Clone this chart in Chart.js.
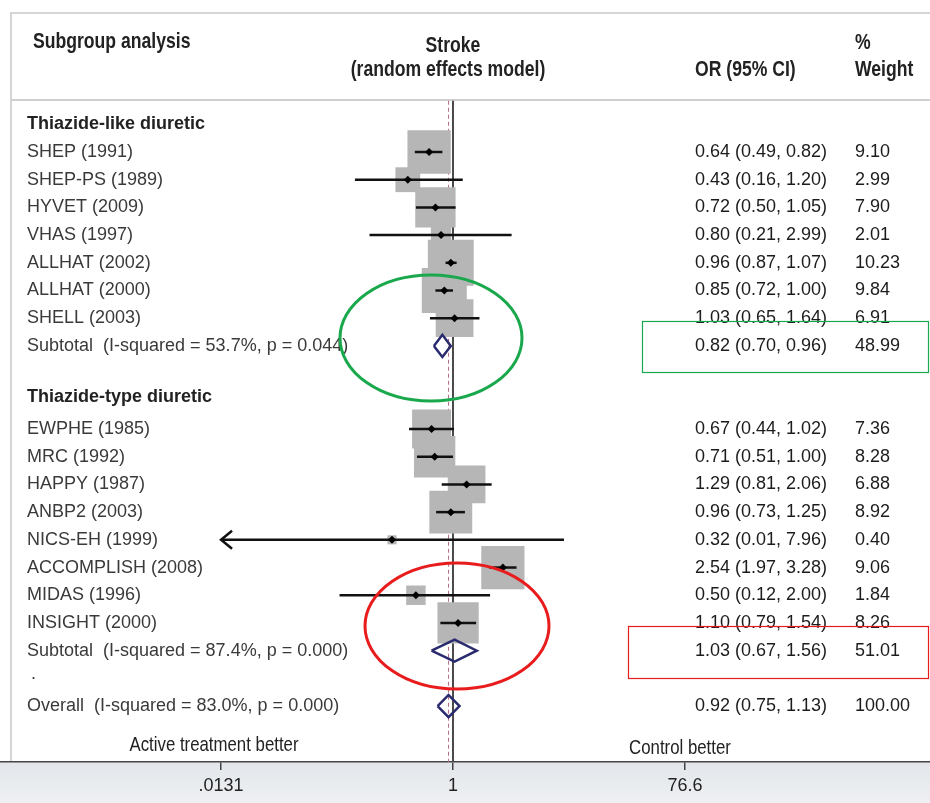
<!DOCTYPE html>
<html>
<head>
<meta charset="utf-8">
<title>Stroke subgroup forest plot</title>
<script src="https://cdn.jsdelivr.net/npm/chart.js@4.4.1/dist/chart.umd.min.js"></script>
<style>
    html, body { margin: 0; padding: 0; background: #fff; }
    #wrap { width: 930px; height: 803px; }
</style>
</head>
<body>
<div id="wrap"><canvas id="forestChart" width="930" height="803"></canvas></div>
<script>
// Thiazide-like diuretic trials
const likeStudies = ['SHEP (1991)', 'SHEP-PS (1989)', 'HYVET (2009)', 'VHAS (1997)', 'ALLHAT (2002)', 'ALLHAT (2000)', 'SHELL (2003)'];
const likeOR = [0.64, 0.43, 0.72, 0.80, 0.96, 0.85, 1.03];
const likeLow = [0.49, 0.16, 0.50, 0.21, 0.87, 0.72, 0.65];
const likeHigh = [0.82, 1.20, 1.05, 2.99, 1.07, 1.00, 1.64];
const likeWeight = [9.10, 2.99, 7.90, 2.01, 10.23, 9.84, 6.91];

// Thiazide-type diuretic trials
const typeStudies = ['EWPHE (1985)', 'MRC (1992)', 'HAPPY (1987)', 'ANBP2 (2003)', 'NICS-EH (1999)', 'ACCOMPLISH (2008)', 'MIDAS (1996)', 'INSIGHT (2000)'];
const typeOR = [0.67, 0.71, 1.29, 0.96, 0.32, 2.54, 0.50, 1.10];
const typeLow = [0.44, 0.51, 0.81, 0.73, 0.01, 1.97, 0.12, 0.79];
const typeHigh = [1.02, 1.00, 2.06, 1.25, 7.96, 3.28, 2.00, 1.54];
const typeWeight = [7.36, 8.28, 6.88, 8.92, 0.40, 9.06, 1.84, 8.26];

// pooled estimates
const groupNames = ['Thiazide-like diuretic', 'Thiazide-type diuretic'];
const subtotalLabels = ['Subtotal  (I-squared = 53.7%, p = 0.044)', 'Subtotal  (I-squared = 87.4%, p = 0.000)'];
const subtotalOR = [0.82, 1.03];
const subtotalLow = [0.70, 0.67];
const subtotalHigh = [0.96, 1.56];
const subtotalWeight = [48.99, 51.01];

const overallLabel = 'Overall  (I-squared = 83.0%, p = 0.000)';
const overallOR = [0.92];
const overallLow = [0.75];
const overallHigh = [1.13];
const overallWeight = [100.00];

// axis
const tickValues = [0.0131, 1, 76.6];
const tickLabels = ['.0131', '1', '76.6'];

// row positions (0 = first group header, counting down)
const groupRows = [0, 9.84];
const likeRows = likeStudies.map((s, i) => 1 + i);
const typeRows = typeStudies.map((s, i) => 11 + i);
const subtotalRows = [8, 19];
const dotRow = 20;
const overallRow = 21;

const allStudies = likeStudies.concat(typeStudies);
const allOR = likeOR.concat(typeOR);
const allLow = likeLow.concat(typeLow);
const allHigh = likeHigh.concat(typeHigh);
const allWeight = likeWeight.concat(typeWeight);
const allRows = likeRows.concat(typeRows);

const FONT = "'Liberation Sans', Arial, Helvetica, sans-serif";
const xMin = Math.pow(10, -3.677);
const xMax = Math.pow(10, 3.872);
const yMin = -4.487;
const yMax = 23.02;
const boxScale = 10.15;
const diamondHalf = 0.4;

function fmt(v) { return v.toFixed(2); }
function ciText(or, lo, hi) { return fmt(or) + ' (' + fmt(lo) + ', ' + fmt(hi) + ')'; }

function diamond(or, lo, hi, row) {
    return [
        { x: lo, y: row },
        { x: or, y: row - diamondHalf },
        { x: hi, y: row },
        { x: or, y: row + diamondHalf },
        { x: lo, y: row }
    ];
}

const datasets = [];

// reference lines: null effect and overall estimate
datasets.push({
    data: [{ x: 1, y: -0.85 }, { x: 1, y: yMax }],
    showLine: true, borderColor: '#4a4a4a', borderWidth: 2, pointRadius: 0, order: 6
});
datasets.push({
    data: [{ x: overallOR[0], y: -0.85 }, { x: overallOR[0], y: yMax }],
    showLine: true, borderColor: '#b86f86', borderWidth: 1, borderDash: [4, 3], pointRadius: 0, order: 5
});

// weight boxes
datasets.push({
    data: allOR.map((v, i) => ({ x: v, y: allRows[i] })),
    pointStyle: 'rect',
    pointRadius: allWeight.map(w => boxScale * Math.sqrt(w)),
    backgroundColor: '#b6b6b6',
    borderWidth: 0,
    order: 4
});

// confidence intervals (clipped at the lowest tick)
allOR.forEach((v, i) => {
    datasets.push({
        data: [{ x: Math.max(allLow[i], tickValues[0]), y: allRows[i] }, { x: allHigh[i], y: allRows[i] }],
        showLine: true, borderColor: '#111', borderWidth: 2.5, pointRadius: 0, order: 3
    });
});

// point estimates
datasets.push({
    data: allOR.map((v, i) => ({ x: v, y: allRows[i] })),
    pointStyle: 'rectRot', pointRadius: 4, backgroundColor: '#000', borderWidth: 0, order: 2
});

// pooled diamonds
subtotalOR.forEach((v, i) => {
    datasets.push({
        data: diamond(v, subtotalLow[i], subtotalHigh[i], subtotalRows[i]),
        showLine: true, borderColor: '#2a2a6e', borderWidth: 2.5, pointRadius: 0, order: 1
    });
});
datasets.push({
    data: diamond(overallOR[0], overallLow[0], overallHigh[0], overallRow),
    showLine: true, borderColor: '#2a2a6e', borderWidth: 2.5, pointRadius: 0, order: 1
});

function narrowText(ctx, text, x, y, size, weight, align, color) {
    ctx.save();
    ctx.translate(x, y);
    ctx.scale(0.8, 1);
    ctx.font = weight + ' ' + size + 'px ' + FONT;
    ctx.textAlign = align;
    ctx.textBaseline = 'middle';
    ctx.fillStyle = color;
    ctx.fillText(text, 0, 0);
    ctx.restore();
}

const framePlugin = {
    id: 'frame',
    beforeDraw(chart) {
        const ctx = chart.ctx;
        const area = chart.chartArea;
        ctx.save();
        ctx.fillStyle = '#fff';
        ctx.fillRect(0, 0, chart.width, chart.height);
        const g = ctx.createLinearGradient(0, area.bottom, 0, chart.height);
        g.addColorStop(0, '#e2e6ea');
        g.addColorStop(1, '#eef0f2');
        ctx.fillStyle = g;
        ctx.fillRect(0, area.bottom, chart.width, chart.height - area.bottom);
        ctx.strokeStyle = '#d6d6d6';
        ctx.lineWidth = 2;
        ctx.beginPath();
        ctx.moveTo(11, area.bottom);
        ctx.lineTo(11, 13);
        ctx.lineTo(chart.width, 13);
        ctx.stroke();
        ctx.strokeStyle = '#cfcfcf';
        ctx.beginPath();
        ctx.moveTo(11, 100);
        ctx.lineTo(chart.width, 100);
        ctx.stroke();
        ctx.restore();
    }
};

const textPlugin = {
    id: 'columns',
    afterDraw(chart) {
        const ctx = chart.ctx;
        const y = chart.scales.y;
        const x = chart.scales.x;
        const labelX = 27, orX = 695, wX = 855;

        // header
        narrowText(ctx, 'Subgroup analysis', 33, 42, 22, 'bold', 'left', '#222');
        narrowText(ctx, 'Stroke', 453, 46, 22, 'bold', 'center', '#222');
        narrowText(ctx, '(random effects model)', 448, 70, 22, 'bold', 'center', '#222');
        narrowText(ctx, 'OR (95% CI)', 695, 70, 22, 'bold', 'left', '#222');
        narrowText(ctx, '%', 855, 43, 22, 'bold', 'left', '#222');
        narrowText(ctx, 'Weight', 855, 70, 22, 'bold', 'left', '#222');

        ctx.save();
        ctx.textBaseline = 'middle';
        ctx.textAlign = 'left';

        ctx.font = 'bold 18px ' + FONT;
        ctx.fillStyle = '#222';
        groupNames.forEach((g, i) => ctx.fillText(g, labelX, y.getPixelForValue(groupRows[i])));

        ctx.font = '18px ' + FONT;
        allStudies.forEach((s, i) => {
            const py = y.getPixelForValue(allRows[i]);
            ctx.fillStyle = '#3a3a3a';
            ctx.fillText(s, labelX, py);
            ctx.fillStyle = '#1c1c1c';
            ctx.fillText(ciText(allOR[i], allLow[i], allHigh[i]), orX, py);
            ctx.fillText(fmt(allWeight[i]), wX, py);
        });
        subtotalLabels.forEach((s, i) => {
            const py = y.getPixelForValue(subtotalRows[i]);
            ctx.fillStyle = '#3a3a3a';
            ctx.fillText(s, labelX, py);
            ctx.fillStyle = '#1c1c1c';
            ctx.fillText(ciText(subtotalOR[i], subtotalLow[i], subtotalHigh[i]), orX, py);
            ctx.fillText(fmt(subtotalWeight[i]), wX, py);
        });
        ctx.fillStyle = '#3a3a3a';
        ctx.fillText('.', labelX + 4, y.getPixelForValue(dotRow) - 4);
        const oy = y.getPixelForValue(overallRow);
        ctx.fillText(overallLabel, labelX, oy);
        ctx.fillStyle = '#1c1c1c';
        ctx.fillText(ciText(overallOR[0], overallLow[0], overallHigh[0]), orX, oy);
        ctx.fillText(fmt(overallWeight[0]), wX, oy);

        // arrow for the interval running past the lowest tick
        allLow.forEach((lo, i) => {
            if (lo >= tickValues[0]) return;
            const ax = x.getPixelForValue(tickValues[0]);
            const ay = y.getPixelForValue(allRows[i]);
            ctx.strokeStyle = '#111';
            ctx.lineWidth = 2.5;
            ctx.beginPath();
            ctx.moveTo(ax + 11, ay - 9);
            ctx.lineTo(ax, ay);
            ctx.lineTo(ax + 11, ay + 9);
            ctx.stroke();
        });
        ctx.restore();

        narrowText(ctx, 'Active treatment better', 214, 745, 21, 'normal', 'center', '#222');
        narrowText(ctx, 'Control better', 680, 748, 21, 'normal', 'center', '#222');

        // hand-drawn highlights
        ctx.save();
        ctx.lineWidth = 3;
        ctx.strokeStyle = '#19a84b';
        ctx.beginPath();
        ctx.ellipse(431, 338, 91, 63, 0, 0, Math.PI * 2);
        ctx.stroke();
        ctx.strokeStyle = '#e81c1c';
        ctx.beginPath();
        ctx.ellipse(457, 626, 92, 63, 0, 0, Math.PI * 2);
        ctx.stroke();
        ctx.lineWidth = 1.2;
        ctx.strokeStyle = '#19a84b';
        ctx.strokeRect(642.5, 321.5, 286, 51);
        ctx.strokeStyle = '#e81c1c';
        ctx.strokeRect(628.5, 626.5, 300, 52);
        ctx.restore();
    }
};

new Chart(document.getElementById('forestChart').getContext('2d'), {
    type: 'scatter',
    data: { datasets: datasets },
    options: {
        responsive: false,
        animation: false,
        layout: { padding: 0, autoPadding: false },
        plugins: {
            legend: { display: false },
            tooltip: { enabled: false }
        },
        scales: {
            x: {
                type: 'logarithmic',
                min: xMin,
                max: xMax,
                afterBuildTicks: function(scale) {
                    scale.ticks = tickValues.map(v => ({ value: v }));
                },
                afterFit: function(scale) {
                    scale.height = 41;
                },
                ticks: {
                    autoSkip: false,
                    maxRotation: 0,
                    padding: 5,
                    color: '#222',
                    font: { family: FONT, size: 18 },
                    callback: function(value, index) {
                        return tickLabels[index];
                    }
                },
                grid: {
                    drawOnChartArea: false,
                    drawTicks: true,
                    tickLength: 8,
                    color: '#444',
                    lineWidth: 1.5
                },
                border: { display: true, color: '#444', width: 1.5 }
            },
            y: {
                type: 'linear',
                reverse: true,
                min: yMin,
                max: yMax,
                display: false
            }
        }
    },
    plugins: [framePlugin, textPlugin]
});
</script>
</body>
</html>
